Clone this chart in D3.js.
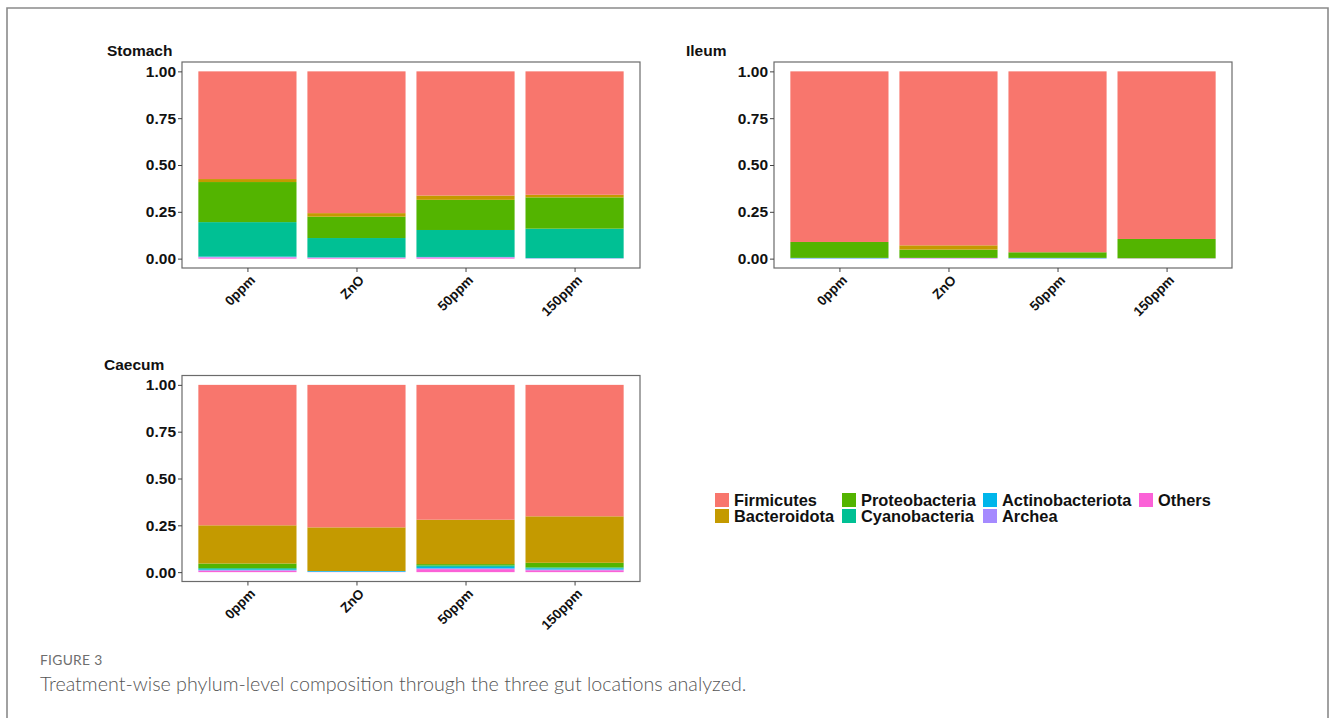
<!DOCTYPE html>
<html><head><meta charset="utf-8">
<script src="https://cdn.jsdelivr.net/npm/d3@7"></script>
<style>body{margin:0;background:#fff}svg{display:block}</style>
</head><body>
<svg id="c" width="1330" height="718"></svg>
<script>
const treatments = ["0ppm","ZnO","50ppm","150ppm"];
const phyla = ["Firmicutes","Bacteroidota","Proteobacteria","Cyanobacteria","Actinobacteriota","Archea","Others"];
const phylumColors = ["#F8766D","#C49A00","#53B400","#00C094","#00B6EB","#A58AFF","#FB61D7"];
const yTicks = [0,0.25,0.5,0.75,1.0];
const yTickLabels = ["0.00","0.25","0.50","0.75","1.00"];
// values per treatment, order = phyla
const stomach = [
  [0.575,0.016,0.214,0.184,0.002,0.003,0.006],
  [0.757,0.019,0.114,0.103,0.001,0.002,0.004],
  [0.663,0.023,0.161,0.144,0.001,0.002,0.006],
  [0.659,0.014,0.167,0.157,0.001,0.001,0.001]
];
const ileum = [
  [0.911,0.000,0.085,0.000,0.002,0.002,0.000],
  [0.929,0.023,0.044,0.000,0.000,0.002,0.002],
  [0.966,0.000,0.030,0.000,0.002,0.002,0.000],
  [0.895,0.000,0.103,0.000,0.000,0.001,0.001]
];
const caecum = [
  [0.750,0.204,0.025,0.006,0.004,0.003,0.008],
  [0.761,0.233,0.000,0.000,0.004,0.000,0.002],
  [0.720,0.237,0.007,0.008,0.008,0.004,0.016],
  [0.702,0.248,0.025,0.005,0.006,0.004,0.010]
];
const panelTitles = ["Stomach","Ileum","Caecum"];

const svg = d3.select("#c");
// outer frame
svg.append("path").attr("d","M7,730 V8 H1328 V730").attr("fill","none").attr("stroke","#8a8a8a").attr("stroke-width",1.6);

const color = d3.scaleOrdinal().domain(phyla).range(phylumColors);
const font = "'Liberation Sans', Arial, sans-serif";

function panel(data, title, x0, x1, y0, y1, titleX) {
  const g = svg.append("g");
  // ggplot-like discrete expansion: 0.6 units each side
  const unit = (x1 - x0) / (treatments.length - 1 + 1.2);
  const xc = d3.scalePoint().domain(treatments).range([x0 + 0.6*unit, x1 - 0.6*unit]);
  const bw = 0.9 * unit;
  const y = d3.scaleLinear().domain([0,1])
    .range([y1 - (y1-y0)*0.05/1.1, y0 + (y1-y0)*0.05/1.1]);
  const rows = treatments.map((t,i)=>{const o={t}; phyla.forEach((p,j)=>o[p]=data[i][j]); return o;});
  const series = d3.stack().keys(phyla.slice().reverse())(rows);
  g.selectAll("g.s").data(series).join("g").attr("fill", d=>color(d.key))
    .selectAll("rect").data(d=>d).join("rect")
    .attr("x", d=>xc(d.data.t)-bw/2).attr("width", bw)
    .attr("y", d=>y(d[1])).attr("height", d=>Math.max(0,y(d[0])-y(d[1])));
  g.append("rect").attr("x",x0).attr("y",y0).attr("width",x1-x0).attr("height",y1-y0)
    .attr("fill","none").attr("stroke","#6b6b6b").attr("stroke-width",1.2);
  const ya = g.append("g").attr("transform",`translate(${x0},0)`)
    .call(d3.axisLeft(y).tickValues(yTicks).tickFormat((d,i)=>yTickLabels[i]).tickSize(4).tickPadding(2));
  ya.select(".domain").remove();
  ya.selectAll("line").attr("stroke","#444");
  ya.selectAll("text").attr("font-family",font).attr("font-weight","bold").attr("font-size",15.5).attr("fill","#111");
  const xa = g.append("g").attr("transform",`translate(0,${y1})`)
    .call(d3.axisBottom(xc).tickSize(4).tickPadding(2));
  xa.select(".domain").remove();
  xa.selectAll("line").attr("stroke","#444");
  xa.selectAll("text").attr("font-family",font).attr("font-weight","bold").attr("font-size",13.5).attr("fill","#111")
    .attr("text-anchor","end").attr("dy",null).attr("y",0)
    .attr("transform","translate(8,13) rotate(-45)");
  g.append("text").attr("x",titleX).attr("y",y0-6).attr("font-family",font).attr("font-weight","bold")
    .attr("font-size",15.5).attr("fill","#111").text(title);
}
panel(stomach, panelTitles[0], 182, 640, 62, 268, 107);
panel(ileum, panelTitles[1], 774, 1232, 62, 268, 686);
panel(caecum, panelTitles[2], 182, 640, 375.5, 581.5, 104);

// legend
const legCols = [715, 842, 983, 1139];
const legRows = [500, 516];
const legItems = [[0,0,"Firmicutes"],[0,1,"Bacteroidota"],[1,0,"Proteobacteria"],[1,1,"Cyanobacteria"],[2,0,"Actinobacteriota"],[2,1,"Archea"],[3,0,"Others"]];
const lg = svg.append("g");
legItems.forEach(([c,r,name])=>{
  lg.append("rect").attr("x",legCols[c]).attr("y",legRows[r]-7).attr("width",14).attr("height",14).attr("fill",color(name));
  lg.append("text").attr("x",legCols[c]+19).attr("y",legRows[r]+5.5).attr("font-family",font).attr("font-weight","bold")
    .attr("font-size",16.4).attr("fill","#111").text(name);
});

// caption
svg.append("text").attr("x",40).attr("y",665).attr("font-family","Lato, 'Open Sans', sans-serif").attr("font-size",13.8)
  .attr("fill","#6e6e6e").attr("letter-spacing",0.3).text("FIGURE 3");
svg.append("text").attr("x",40).attr("y",691).attr("font-family","Lato, 'Open Sans', sans-serif").attr("font-size",19.7)
  .attr("fill","#555").attr("font-weight",300).text("Treatment-wise phylum-level composition through the three gut locations analyzed.");
</script>
</body></html>
